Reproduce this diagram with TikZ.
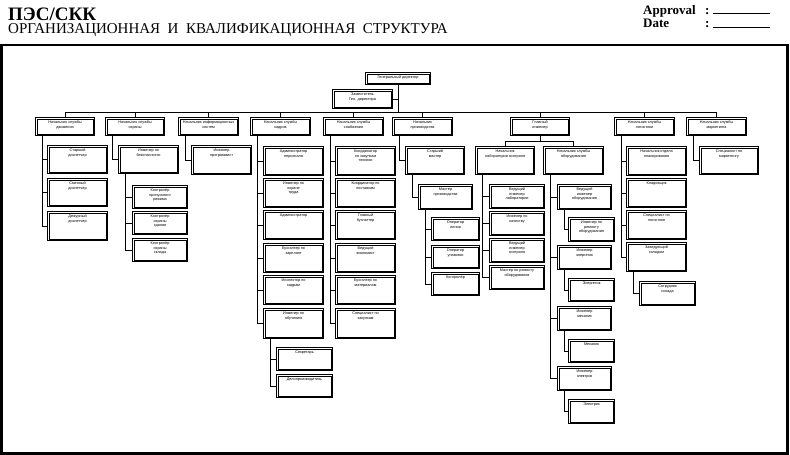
\documentclass[tikz,border=0pt]{standalone}
\usepackage{fontspec}
\setmainfont{Liberation Serif}
\newfontfamily\boxfont{Liberation Sans}
\usepackage{tikz}
\newcommand{\kids}[2]{\foreach \c in {#2} \draw ([xshift=7pt]#1.south west) |- (\c.west);}
\tikzset{
  frame/.style={draw, line width=1.1pt, inner sep=0pt,
    font=\boxfont\fontsize{3.8}{4.6}\selectfont,
    path picture={\draw[line width=0.4pt] ([shift={(1.6pt,1.6pt)}]path picture bounding box.south west) rectangle ([shift={(-1.6pt,-1.6pt)}]path picture bounding box.north east);}},
  cell/.style 2 args={frame, anchor=north west,
    execute at begin node={\begin{minipage}[c][#2][t]{#1}\centering\vspace*{3.4pt}},
    execute at end node={\end{minipage}}}
}

\begin{document}
\begin{tikzpicture}[x=1pt,y=-1pt]
\useasboundingbox (0,0) rectangle (790,455);
% header
\node[anchor=base west, inner sep=0, font=\bfseries\fontsize{19}{19}\selectfont] (code) at (8,20) {ПЭС/СКК};
\node[anchor=base west, inner sep=0, font=\fontsize{15}{15}\selectfont] (title) at (8,34) {ОРГАНИЗАЦИОННАЯ\ \ И\ \ КВАЛИФИКАЦИОННАЯ\ \ СТРУКТУРА};
\node[anchor=base west, inner sep=0, font=\bfseries\fontsize{13}{13}\selectfont] (appr) at (643,14) {\makebox[62pt][l]{Approval}:\ \rule{57pt}{0.8pt}};
\node[anchor=base west, inner sep=0, font=\bfseries\fontsize{13}{13}\selectfont] (date) at (643,27.5) {\makebox[62pt][l]{Date}:\ \rule{57pt}{0.8pt}};
\draw[line width=2.5pt] (1.5,45) rectangle (787.5,453.5);

% top
\node[cell={65pt}{12pt}] (gd) at (365,72) {Генеральный директор};
\node[cell={60pt}{19pt}] (zam) at (332,89) {Заместитель\\Ген. директора};
\coordinate (bus) at (0,112);
\coordinate (br) at (0,141);

% departments
\node[cell={59pt}{18pt}] (d1) at (35,117) {Начальник службы\\движения};
\node[cell={59pt}{18pt}] (d2) at (105,117) {Начальник службы\\охраны};
\node[cell={60pt}{18pt}] (d3) at (178,117) {Начальник информационных\\систем};
\node[cell={60pt}{18pt}] (d4) at (250,117) {Начальник службы\\кадров};
\node[cell={60pt}{18pt}] (d5) at (323,117) {Начальник службы\\снабжения};
\node[cell={60pt}{18pt}] (d6) at (392,117) {Начальник\\производства};
\node[cell={59pt}{18pt}] (d7) at (510,117) {Главный\\инженер};
\node[cell={60pt}{18pt}] (d8) at (614,117) {Начальник службы\\логистики};
\node[cell={60pt}{18pt}] (d9) at (686,117) {Начальник службы\\маркетинга};

% column 1
\node[cell={60pt}{28pt}] (c11) at (47,145) {Старший\\диспетчер};
\node[cell={60pt}{28pt}] (c12) at (47,178) {Сменный\\диспетчер};
\node[cell={60pt}{29pt}] (c13) at (47,211) {Дежурный\\диспетчер};
% column 2
\node[cell={60pt}{28pt}] (c21) at (118,145) {Инженер по\\безопасности};
\node[cell={55pt}{23pt}] (c22) at (132,185) {Контролёр\\пропускного\\режима};
\node[cell={55pt}{23pt}] (c23) at (132,211) {Контролёр\\охраны\\здания};
\node[cell={55pt}{23pt}] (c24) at (132,238) {Контролёр\\охраны\\склада};
% column 3
\node[cell={60pt}{29pt}] (c31) at (191,145) {Инженер\\программист};
% column 4
\node[cell={60pt}{29pt}] (c41) at (263,146) {Администратор\\персонала};
\node[cell={60pt}{29pt}] (c42) at (263,178) {Инженер по\\охране\\труда};
\node[cell={60pt}{29pt}] (c43) at (263,210) {Администратор};
\node[cell={60pt}{29pt}] (c44) at (263,243) {Бухгалтер по\\зарплате};
\node[cell={60pt}{29pt}] (c45) at (263,275) {Инспектор по\\кадрам};
\node[cell={60pt}{30pt}] (c46) at (263,308) {Инженер по\\обучению};
\node[cell={56pt}{23pt}] (c47) at (276,347) {Секретарь};
\node[cell={56pt}{23pt}] (c48) at (276,374) {Делопроизводитель};
% column 5
\node[cell={60pt}{29pt}] (c51) at (335,146) {Координатор\\по закупкам\\техники};
\node[cell={60pt}{29pt}] (c52) at (335,178) {Координатор по\\поставкам};
\node[cell={60pt}{29pt}] (c53) at (335,210) {Главный\\бухгалтер};
\node[cell={60pt}{29pt}] (c54) at (335,243) {Ведущий\\экономист};
\node[cell={60pt}{29pt}] (c55) at (335,275) {Бухгалтер по\\материалам};
\node[cell={60pt}{30pt}] (c56) at (335,308) {Специалист по\\закупкам};
% column 6
\node[cell={59pt}{28pt}] (c61) at (405,146) {Старший\\мастер};
\node[cell={54pt}{25pt}] (c62) at (418,184) {Мастер\\производства};
\node[cell={48pt}{23pt}] (c63) at (431,217) {Оператор\\линии};
\node[cell={48pt}{23pt}] (c64) at (431,245) {Оператор\\упаковки};
\node[cell={48pt}{23pt}] (c65) at (431,272) {Контролёр};
% column 7
\node[cell={59pt}{28pt}] (lab) at (475,146) {Начальник\\лаборатории контроля};
\node[cell={60pt}{28pt}] (obo) at (543,146) {Начальник службы\\оборудования};
\node[cell={55pt}{24pt}] (l1) at (489,184) {Ведущий\\инженер\\лаборатории};
\node[cell={55pt}{24pt}] (l2) at (489,211) {Инженер по\\качеству};
\node[cell={55pt}{24pt}] (l3) at (489,238) {Ведущий\\инженер\\контроля};
\node[cell={55pt}{24pt}] (l4) at (489,265) {Мастер по ремонту\\оборудования};
\node[cell={54pt}{25pt}] (e1) at (557,184) {Ведущий\\инженер\\оборудования};
\node[cell={54pt}{24pt}] (e2) at (557,245) {Инженер\\энергетик};
\node[cell={54pt}{24pt}] (e3) at (557,306) {Инженер\\механик};
\node[cell={54pt}{24pt}] (e4) at (557,366) {Инженер\\электрик};
\node[cell={46pt}{24pt}] (s1) at (568,217) {Инженер по\\ремонту\\оборудования};
\node[cell={46pt}{23pt}] (s2) at (568,278) {Энергетик};
\node[cell={46pt}{23pt}] (s3) at (568,339) {Механик};
\node[cell={46pt}{24pt}] (s4) at (568,399) {Электрик};
% column 8
\node[cell={60pt}{29pt}] (c81) at (626,146) {Начальник отдела\\планирования};
\node[cell={60pt}{29pt}] (c82) at (626,178) {Кладовщик};
\node[cell={60pt}{29pt}] (c83) at (626,210) {Специалист по\\логистике};
\node[cell={60pt}{29pt}] (c84) at (626,242) {Заведующий\\складом};
\node[cell={56pt}{24pt}] (c85) at (639,281) {Сотрудник\\склада};
% column 9
\node[cell={59pt}{28pt}] (c91) at (699,146) {Специалист по\\маркетингу};

% connectors
\draw (gd.south) -- (gd.south |- bus);
\draw (zam.east) -- (zam.east -| gd.south);
\draw (d1.north |- bus) -- (d9.north |- bus);
\foreach \i in {1,...,9} \draw (d\i.north) -- (d\i.north |- bus);
\draw (d7.south) -- (d7.south |- br);
\draw (lab.north) -- (lab.north |- br) -- (obo.north |- br) -- (obo.north);
\kids{d1}{c11,c12,c13}
\kids{d2}{c21}
\kids{c21}{c22,c23,c24}
\kids{d3}{c31}
\kids{d4}{c41,c42,c43,c44,c45,c46}
\kids{c46}{c47,c48}
\kids{d5}{c51,c52,c53,c54,c55,c56}
\kids{d6}{c61}
\kids{c61}{c62}
\kids{c62}{c63,c64,c65}
\kids{lab}{l1,l2,l3,l4}
\kids{obo}{e1,e2,e3,e4}
\kids{e1}{s1}
\kids{e2}{s2}
\kids{e3}{s3}
\kids{e4}{s4}
\kids{d8}{c81,c82,c83,c84}
\kids{c84}{c85}
\kids{d9}{c91}
\end{tikzpicture}
\end{document}
